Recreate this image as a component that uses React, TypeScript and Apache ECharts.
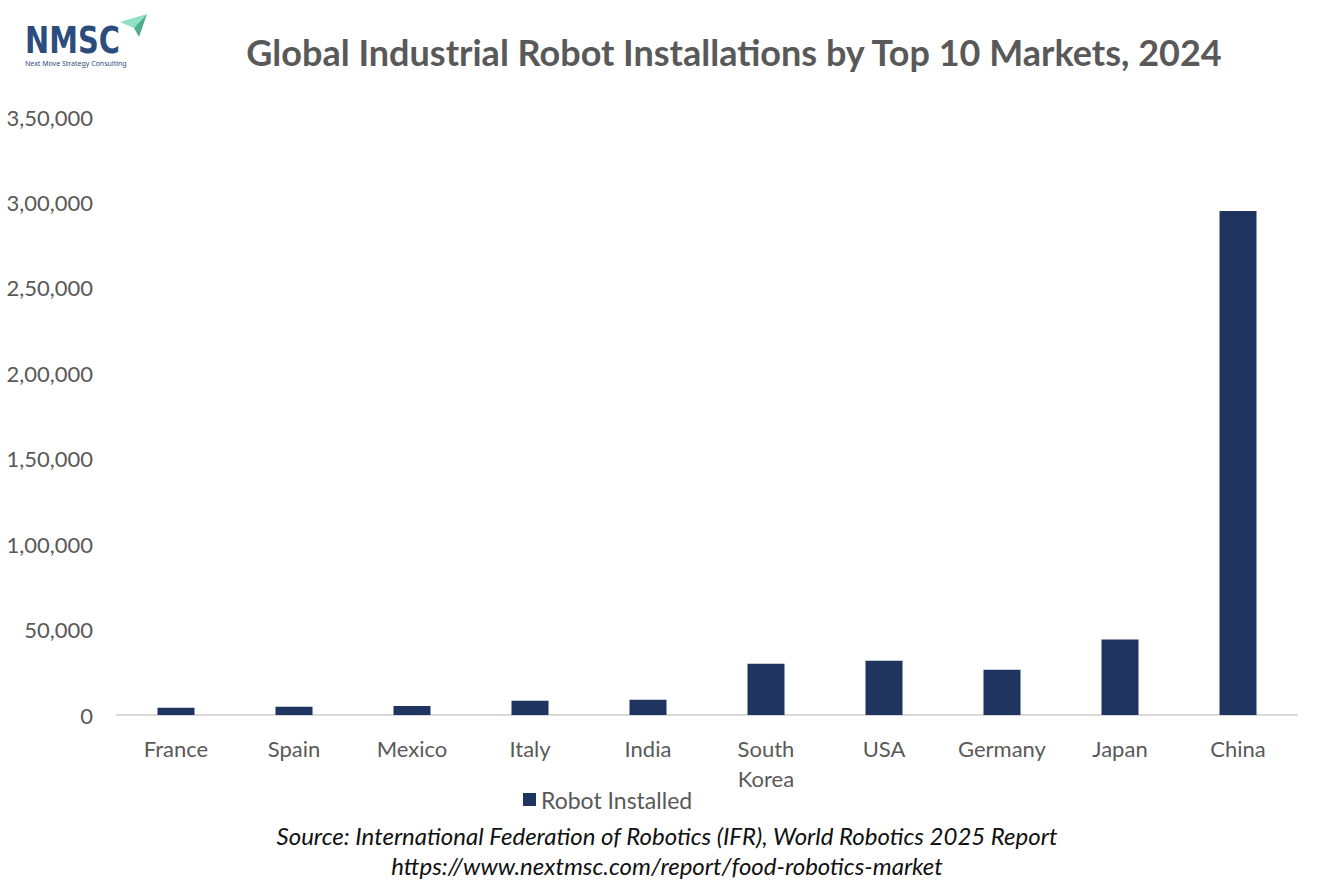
import React, { useEffect, useRef } from "react";
import * as echarts from "echarts";

const categories = ["France", "Spain", "Mexico", "Italy", "India", "South\nKorea", "USA", "Germany", "Japan", "China"];
const robotsInstalled = [4200, 4800, 5300, 8300, 8900, 30000, 31800, 26500, 44200, 295000];
const seriesName = "Robot Installed";
const titleText = "Global Industrial Robot Installations by Top 10 Markets, 2024";
const sourceLines = [
  "Source: International Federation of Robotics (IFR), World Robotics 2025 Report",
  "https://www.nextmsc.com/report/food-robotics-market",
];
const logoText = "NMSC";
const logoSubText = "Next Move Strategy Consulting";

const fmtIndian = (v: number) => {
  const s = String(Math.round(v));
  if (s.length <= 3) return s;
  const last3 = s.slice(-3);
  let rest = s.slice(0, -3);
  const parts: string[] = [];
  while (rest.length > 2) {
    parts.unshift(rest.slice(-2));
    rest = rest.slice(0, -2);
  }
  if (rest) parts.unshift(rest);
  return parts.join(",") + "," + last3;
};

const FONT = "Lato, 'Open Sans', sans-serif";

export default function App() {
  const ref = useRef<HTMLDivElement>(null);
  useEffect(() => {
    if (!ref.current) return;
    const chart = echarts.init(ref.current, undefined, { renderer: "svg" });
    chart.setOption({
      animation: false,
      backgroundColor: "#ffffff",
      textStyle: { fontFamily: FONT },
      title: {
        text: titleText,
        left: 729,
        top: 29,
        textAlign: "center",
        textStyle: { fontSize: 36, fontWeight: "bold", color: "#595959", fontFamily: FONT },
      },
      grid: { left: 117, right: 37, top: 117, bottom: 174, containLabel: false },
      legend: {
        data: [seriesName],
        left: 518,
        top: 783,
        itemWidth: 13,
        itemHeight: 13,
        itemGap: 8,
        icon: "rect",
        textStyle: { fontSize: 23, color: "#595959", fontFamily: FONT },
      },
      xAxis: {
        type: "category",
        data: categories,
        axisLine: { lineStyle: { color: "#d9d9d9", width: 2 } },
        axisTick: { show: false },
        axisLabel: { fontSize: 22, color: "#595959", margin: 18, lineHeight: 30, interval: 0, fontFamily: FONT },
      },
      yAxis: {
        type: "value",
        min: 0,
        max: 350000,
        interval: 50000,
        splitLine: { show: false },
        axisLine: { show: false },
        axisTick: { show: false },
        axisLabel: {
          fontSize: 22,
          color: "#595959",
          margin: 24,
          fontFamily: FONT,
          formatter: (v: number) => fmtIndian(v),
        },
      },
      series: [
        {
          name: seriesName,
          type: "bar",
          data: robotsInstalled,
          barWidth: 37,
          itemStyle: { color: "#1f3560" },
        },
      ],
      graphic: [
        {
          type: "text",
          x: 667,
          y: 850,
          style: {
            text: sourceLines.join("\n"),
            fontSize: 24,
            fontStyle: "italic",
            lineHeight: 30,
            fill: "#111111",
            align: "center",
            verticalAlign: "middle",
            fontFamily: FONT,
          },
        },
        {
          type: "polygon",
          shape: { points: [[120, 22], [147, 14], [134, 28]] },
          style: { fill: "#8fe0c4" },
        },
        {
          type: "polygon",
          shape: { points: [[134, 28], [147, 14], [139, 37]] },
          style: { fill: "#4caf8a" },
        },
        {
          type: "text",
          x: 25,
          y: 40,
          scaleX: 0.76,
          style: {
            text: logoText,
            fontSize: 38,
            fontWeight: "bold",
            fill: "#2d4c7e",
            fontFamily: "'DejaVu Sans', sans-serif",
            verticalAlign: "middle",
          },
        },
        {
          type: "text",
          x: 25,
          y: 63,
          style: {
            text: logoSubText,
            fontSize: 7,
            fill: "#2d4c7e",
            verticalAlign: "middle",
            fontFamily: "'Noto Sans', sans-serif",
          },
        },
      ],
    });
    return () => chart.dispose();
  }, []);
  return (
    <div
      ref={ref}
      style={{ position: "fixed", left: 0, top: 0, width: 1334, height: 889, background: "#fff" }}
    />
  );
}
